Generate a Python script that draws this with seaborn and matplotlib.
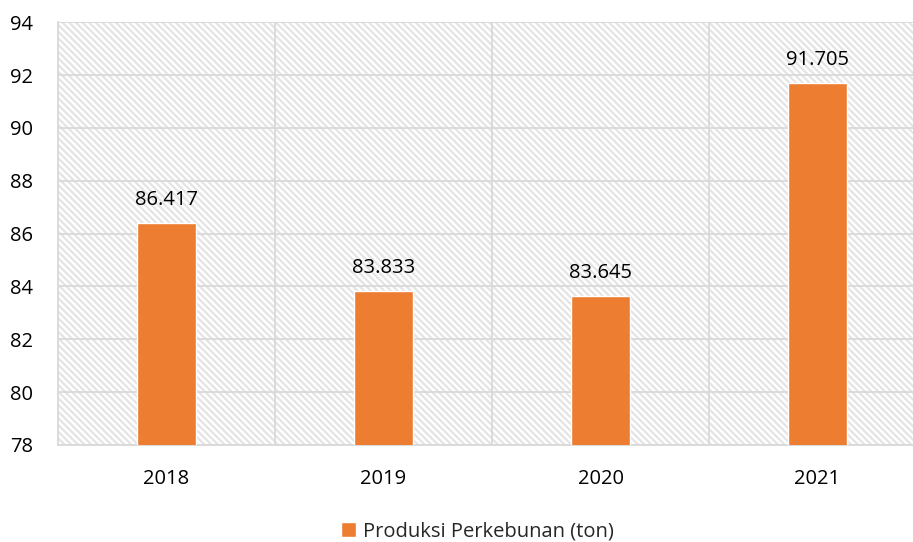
import matplotlib
matplotlib.use("Agg")
import matplotlib.pyplot as plt
import seaborn as sns
import pandas as pd
from matplotlib.patches import Rectangle

sns.set_style("white")
plt.rcParams["font.family"] = ["Open Sans", "DejaVu Sans"]
plt.rcParams["hatch.linewidth"] = 1.6

years = ["2018", "2019", "2020", "2021"]
produksi = [86.417, 83.833, 83.645, 91.705]
series_name = "Produksi Perkebunan (ton)"

BAR_COLOR = "#ED7D31"
GRID_COLOR = "#D9D9D9"
HATCH_COLOR = "#E4E4E4"
FS = 14.5

df = pd.DataFrame({"tahun": years, "produksi": produksi})

fig = plt.figure(figsize=(9.13, 5.42), dpi=100)
ax = fig.add_axes([0.0635, 0.179, 0.9365, 0.780])

# hatched plot-area background
bg = Rectangle((0, 0), 1, 1, transform=ax.transAxes, facecolor="white",
               edgecolor=HATCH_COLOR, hatch="\\" * 5, linewidth=0, zorder=0)
ax.add_patch(bg)

sns.barplot(data=df, x="tahun", y="produksi", color=BAR_COLOR, width=0.27,
            saturation=1, ax=ax, zorder=3, label=series_name)

ax.set_ylim(78, 94)
ax.set_xlim(-0.5, 3.44)
ax.set_yticks(range(78, 95, 2))
ax.set_xticks(range(len(years)), years)
ax.set_xticks([0.5, 1.5, 2.5], minor=True)

ax.grid(axis="y", which="major", color=GRID_COLOR, linewidth=1.3, zorder=1)
ax.grid(axis="x", which="minor", color=GRID_COLOR, linewidth=1.3, zorder=1)
ax.grid(axis="x", which="major", visible=False)
ax.set_axisbelow(True)

for side in ["top", "right"]:
    ax.spines[side].set_visible(False)
for side in ["left", "bottom"]:
    ax.spines[side].set_color(GRID_COLOR)
    ax.spines[side].set_linewidth(1.3)

ax.tick_params(axis="both", which="both", length=0, labelsize=FS, colors="#000000")
ax.tick_params(axis="x", pad=17)
ax.tick_params(axis="y", pad=18)
ax.set_xlabel("")
ax.set_ylabel("")

for c in ax.containers:
    ax.bar_label(c, labels=[f"{v:.3f}" for v in produksi], padding=9,
                 fontsize=FS, color="#000000")

handles, labels = ax.get_legend_handles_labels()
fig.legend(handles, labels, loc="lower center", bbox_to_anchor=(0.523, -0.033),
           frameon=False, fontsize=FS, handlelength=0.75, handleheight=0.75,
           handletextpad=0.35)
if ax.get_legend():
    ax.get_legend().remove()

fig.savefig("out.png", dpi=100)
